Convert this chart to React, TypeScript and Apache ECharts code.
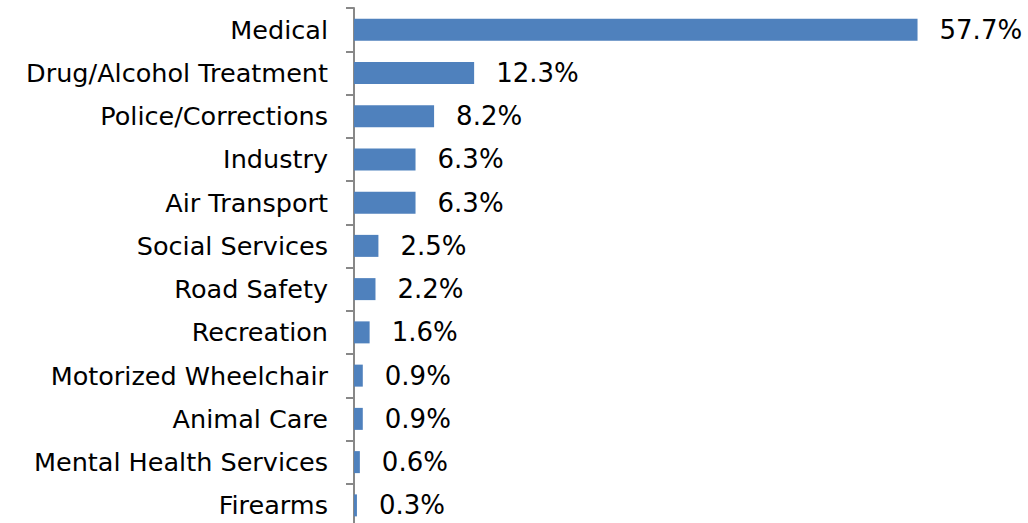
import React, { useEffect, useRef } from "react";
import * as echarts from "echarts";

const categories = [
  "Medical",
  "Drug/Alcohol Treatment",
  "Police/Corrections",
  "Industry",
  "Air Transport",
  "Social Services",
  "Road Safety",
  "Recreation",
  "Motorized Wheelchair",
  "Animal Care",
  "Mental Health Services",
  "Firearms",
];
const values = [57.7, 12.3, 8.2, 6.3, 6.3, 2.5, 2.2, 1.6, 0.9, 0.9, 0.6, 0.3];

export default function App() {
  const ref = useRef<HTMLDivElement>(null);
  useEffect(() => {
    if (!ref.current) return;
    const chart = echarts.init(ref.current, undefined, { renderer: "svg" });
    const font = "'DejaVu Sans', Verdana, sans-serif";
    chart.setOption({
      animation: false,
      grid: { left: 354, right: 88, top: 8, bottom: 0, containLabel: false },
      xAxis: {
        type: "value",
        min: 0,
        max: 60,
        show: false,
      },
      yAxis: {
        type: "category",
        data: categories,
        inverse: true,
        axisLine: { show: true, lineStyle: { color: "#888888", width: 2 } },
        axisTick: { show: true, length: 8, lineStyle: { color: "#888888", width: 2 } },
        axisLabel: { margin: 26, color: "#000000", fontSize: 25.5, fontFamily: font },
        splitLine: { show: false },
      },
      series: [
        {
          type: "bar",
          data: values,
          barWidth: 22,
          itemStyle: { color: "#4F81BD" },
          label: {
            show: true,
            position: "right",
            distance: 22,
            color: "#000000",
            fontSize: 26,
            fontFamily: font,
            formatter: (p: any) => Number(p.value).toFixed(1) + "%",
          },
        },
      ],
    });
    return () => chart.dispose();
  }, []);
  return (
    <div style={{ position: "fixed", left: 0, top: 0, width: 1028, height: 523, overflow: "hidden", background: "#fff" }}>
      <div ref={ref} style={{ width: 1028, height: 527 }} />
    </div>
  );
}
